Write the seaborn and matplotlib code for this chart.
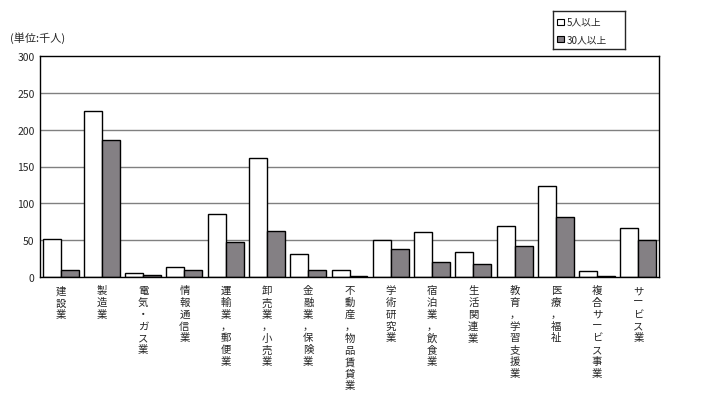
import seaborn as sns
import matplotlib.pyplot as plt
import pandas as pd

categories = ["建設業", "製造業", "電気・ガス業", "情報通信業", "運輸業，郵便業",
              "卸売業，小売業", "金融業，保険業", "不動産，物品賃貸業", "学術研究業",
              "宿泊業，飲食業", "生活関連業", "教育，学習支援業", "医療，福祉",
              "複合サービス事業", "サービス業"]
over5 = [51, 226, 5, 14, 86, 162, 31, 9, 50, 61, 34, 69, 123, 8, 66]
over30 = [10, 186, 3, 10, 47, 62, 10, 1, 38, 21, 17, 42, 82, 2, 50]
series = ["5人以上", "30人以上"]

df = pd.DataFrame({"cat": categories * 2,
                   "val": over5 + over30,
                   "series": [series[0]] * len(categories) + [series[1]] * len(categories)})

sns.set_style("white")
plt.rcParams["font.family"] = ["Noto Sans CJK JP", "DejaVu Sans"]

fig = plt.figure(figsize=(7.08, 4.14), dpi=100)
ax = fig.add_axes([40 / 708, 1 - 278 / 414, 619 / 708, 221 / 414])
sns.barplot(data=df, x="cat", y="val", hue="series", order=categories,
            palette=["white", "#857f85"], edgecolor="black", linewidth=1,
            width=0.87, ax=ax, legend=False)
ax.set_ylim(0, 300)
ax.set_xlim(-0.5, len(categories) - 0.5)
ax.set_yticks(range(0, 301, 50))
ax.tick_params(axis="y", labelsize=7.5, length=0, pad=4)
for y in range(50, 300, 50):
    ax.axhline(y, color="#808080", lw=1, zorder=0)
ax.set_xticks(range(len(categories)))
ax.set_xticklabels(["\n".join(c) for c in categories], fontsize=7.5, va="top", linespacing=1.22)
ax.tick_params(axis="x", length=0, pad=6)
for s in ax.spines.values():
    s.set_color("black")
    s.set_linewidth(1)
ax.set_xlabel("")
ax.set_ylabel("")
fig.text(10 / 708, 1 - 38 / 414, "(単位:千人)", fontsize=8, va="center")

# legend box
lax = fig.add_axes([553 / 708, 1 - 50 / 414, 72 / 708, 38 / 414])
lax.set_xlim(0, 1)
lax.set_ylim(0, 1)
lax.set_xticks([])
lax.set_yticks([])
for s in lax.spines.values():
    s.set_linewidth(1)
for i, (name, col) in enumerate(zip(series, ["white", "#857f85"])):
    yy = 0.72 - i * 0.46
    lax.add_patch(plt.Rectangle((0.06, yy - 0.08), 0.09, 0.16, facecolor=col, edgecolor="black", lw=0.8))
    lax.text(0.19, yy, name, fontsize=7, va="center")

fig.savefig("out.png", dpi=100)
